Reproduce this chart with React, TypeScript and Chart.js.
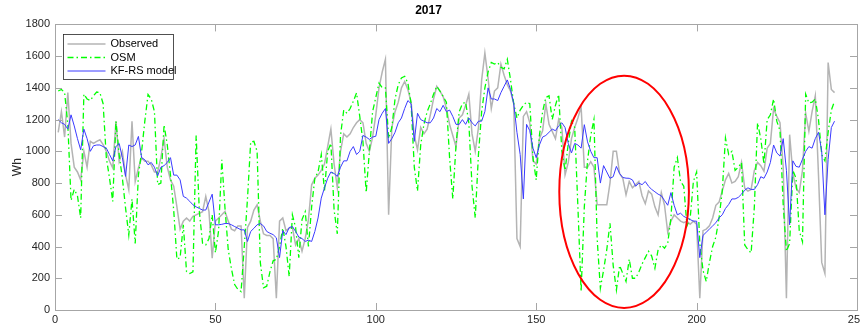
import React, { useEffect, useRef } from "react";
import { Chart, registerables } from "chart.js";

Chart.register(...registerables);

const TITLE = "2017";
const Y_LABEL = "Wh";
const X_MIN = 0;
const X_MAX = 250;
const X_STEP = 50;
const Y_MIN = 0;
const Y_MAX = 1800;
const Y_STEP = 200;
const SERIES_NAMES = ["Observed", "OSM", "KF-RS model"];

const observed = [
  1120, 1250, 1090, 1370, 1050, 900, 870, 820, 1000, 900,
  1063, 1050, 1063, 1073, 1042, 1000, 937, 895, 1189, 937,
  1000, 852, 758, 1189, 810, 895, 958, 937, 937, 915,
  870, 870, 960, 1080, 900, 820, 780, 650, 510, 560,
  580, 560, 590, 600, 610, 620, 716, 620, 326, 560,
  580, 600, 621, 560, 510, 500, 530, 530, 74, 520,
  560, 630, 663, 560, 480, 470, 470, 450, 74, 560,
  580, 500, 516, 520, 410, 450, 370, 450, 570, 789,
  831, 850, 880, 920, 1030, 1140, 920, 770, 1000, 1110,
  1090, 1110, 1150, 1180, 1200, 1180, 1050, 1000, 1090, 1230,
  1400, 1500, 1580, 600, 1150, 1250, 1310, 1400, 1440, 1390,
  1310, 1100, 1010, 1150, 1110, 1140, 1230, 1330, 1410, 1380,
  1345, 1270, 1170, 1100, 1030, 1210, 1230, 1290, 1360, 1110,
  1000, 1150, 1450, 1620, 1460, 1270, 1380, 1400, 1550, 1480,
  1420, 1380, 1300, 450, 400, 1220, 1250, 1180, 940, 920,
  1080, 1130, 1300, 1170, 1126, 1080, 1200, 1150, 852, 930,
  1080, 1150, 1210, 1280, 900, 900, 935, 900, 663, 663,
  663, 663, 800, 1000, 1000, 860, 830, 726, 810, 770,
  790, 810, 720, 670, 750, 730, 650, 600, 740, 660,
  490, 560, 600, 580, 560, 550, 560, 540, 560, 540,
  74, 500, 510, 530, 580, 660, 680, 750, 820, 860,
  800, 810, 840, 930, 768, 750, 760, 880, 930, 910,
  875, 1020, 1050, 1270, 1220, 1180, 900, 74, 1105, 860,
  770, 740, 880, 1240, 1126, 1250, 1350, 850, 300, 230,
  1560, 1390, 1370,
];

const osm = [
  1380, 1390, 1370, 1170, 690, 760, 720, 580, 1360, 1330,
  1320, 1350, 1374, 1370, 1300, 960, 830, 684, 1190, 980,
  831, 642, 473, 700, 420, 850, 1000, 1190, 1358, 1330,
  1250, 790, 800, 1168, 1040, 850, 630, 320, 330, 537,
  242, 230, 240, 1100, 620, 420, 410, 450, 600, 360,
  500, 947, 640, 380, 260, 160, 130, 116, 400, 700,
  1060, 1063, 1000, 300, 140, 150, 240, 310, 320, 400,
  516, 400, 211, 600, 520, 330, 570, 620, 400, 650,
  831, 870, 980, 750, 1000, 1050, 630, 480, 1100, 1260,
  1240, 1270, 1316, 1368, 1220, 1060, 740, 1000, 1250, 1340,
  1430, 1400, 1400, 1080, 1150, 1330, 1420, 1463, 1473, 1430,
  1300, 900, 750, 1040, 1170, 1250, 1300, 1360, 1410, 1380,
  1345, 1310, 960, 700, 1040, 1250, 1300, 1310, 1180, 780,
  580, 980, 1250, 1400, 1500, 1560, 1550, 1560, 1530, 1520,
  1580, 1450, 1300, 1210, 1260, 1290, 1310, 1300, 960, 820,
  1100, 1250, 1340, 1350, 1200, 1290, 1358, 1000, 880, 1050,
  1190, 1150, 650, 116, 650, 940, 1100, 1200, 450, 137,
  250, 380, 547, 280, 126, 280, 230, 180, 320, 200,
  200, 240, 290, 330, 370, 340, 263, 380, 410, 390,
  420, 580, 900, 960, 810, 780, 530, 580, 810, 870,
  420, 250, 180, 300, 400, 460, 580, 750, 1084, 980,
  1000, 880, 900, 930, 410, 380, 360, 650, 1180, 1080,
  920, 1200, 1230, 1330, 1190, 1130, 660, 370, 420, 880,
  830, 500, 430, 1360, 1305, 1310, 1330, 1200, 980, 940,
  1120, 1260, 1316,
];

const kfrs = [
  1200, 1180, 1170, 1140, 1230, 1160, 1080, 1010, 1140, 1080,
  1000, 1035, 1040, 1040, 1030, 1020, 980, 940, 1030, 1050,
  960, 842, 1040, 1030, 1040, 1094, 960, 947, 915, 930,
  900, 845, 900, 910, 930, 960, 850, 850, 820, 716,
  705, 685, 663, 650, 640, 630, 630, 680, 730, 537,
  537, 540, 545, 545, 537, 526, 516, 505, 505, 432,
  495, 515, 537, 545, 530, 495, 484, 475, 455, 330,
  500, 475, 520, 526, 495, 460, 450, 432, 440, 432,
  495, 580, 705, 770, 830, 870, 860, 842, 900, 940,
  940, 1000, 1030, 980, 1000, 1100, 1090, 1075, 1090, 1095,
  1200, 1240, 1270, 1050, 1080, 1120, 1180, 1210, 1270, 1320,
  1300, 1063, 1240, 1200, 1190, 1180, 1180, 1210, 1270, 1250,
  1290, 1250, 1260, 1220, 1170, 1170, 1200, 1170, 1210, 1180,
  1160, 1190, 1190, 1250, 1400, 1330, 1330, 1320, 1370, 1410,
  1450, 1390, 1300, 1120, 980, 700, 1170, 1130, 1020, 960,
  1040, 1090, 1100, 1120, 1140, 1130, 1160, 1180, 1150, 1050,
  990, 1050, 1040, 1020, 1168, 1060, 1000, 960, 960, 800,
  910, 870, 830, 840, 905, 860, 835, 831, 830, 820,
  780, 800, 790, 810, 780, 760, 745, 730, 720, 690,
  660, 740, 660, 600, 610, 590, 580, 570, 560, 560,
  330, 470, 490, 510, 530, 550, 580, 600, 640, 665,
  700, 700, 710, 730, 755, 770, 760, 760, 790, 840,
  830, 870, 930, 1040, 990, 970, 1080, 880, 537, 940,
  905, 900, 950, 1000, 1030, 1020, 1080, 1120, 1000, 600,
  950, 1150, 1190,
];

const days = observed.map((_, i) => i + 1);

// Highlight ellipse, in data units
const ELLIPSE_X = 177.4;
const ELLIPSE_Y = 745;
const ELLIPSE_RX = 20.2;
const ELLIPSE_RY = 732;

const COLORS = {
  observed: "#b4b4b4",
  osm: "#00ff00",
  kfrs: "#3a3aff",
  axis: "#a6a6a6",
  text: "#262626",
  ellipse: "#ff0000",
};
const OSM_DASH = [6, 3, 1.5, 3];
const FONT = "'Liberation Sans', Arial, Helvetica, sans-serif";

const framePlugin = {
  id: "matlabFrame",
  afterDatasetsDraw(chart: any) {
    const { ctx } = chart;
    const xs = chart.scales.x;
    const ys = chart.scales.y;
    const cx = xs.getPixelForValue(ELLIPSE_X);
    const cy = ys.getPixelForValue(ELLIPSE_Y);
    const rx = xs.getPixelForValue(ELLIPSE_X + ELLIPSE_RX) - cx;
    const ry = cy - ys.getPixelForValue(ELLIPSE_Y + ELLIPSE_RY);
    ctx.save();
    ctx.strokeStyle = COLORS.ellipse;
    ctx.lineWidth = 2;
    ctx.beginPath();
    ctx.ellipse(cx, cy, rx, ry, 0, 0, Math.PI * 2);
    ctx.stroke();
    ctx.restore();
  },
  afterDraw(chart: any) {
    const { ctx, chartArea } = chart;
    const { left, right, top, bottom } = chartArea;
    const xs = chart.scales.x;
    const ys = chart.scales.y;
    ctx.save();
    ctx.strokeStyle = COLORS.axis;
    ctx.lineWidth = 1;
    const tl = 7;
    ctx.beginPath();
    xs.ticks.forEach((t: any) => {
      const px = Math.round(xs.getPixelForValue(t.value)) + 0.5;
      ctx.moveTo(px, bottom);
      ctx.lineTo(px, bottom - tl);
      ctx.moveTo(px, top);
      ctx.lineTo(px, top + tl);
    });
    ys.ticks.forEach((t: any) => {
      const py = Math.round(ys.getPixelForValue(t.value)) + 0.5;
      ctx.moveTo(left, py);
      ctx.lineTo(left + tl, py);
      ctx.moveTo(right, py);
      ctx.lineTo(right - tl, py);
    });
    ctx.stroke();
    ctx.strokeRect(Math.round(left) + 0.5, Math.round(top) + 0.5, Math.round(right - left), Math.round(bottom - top));

    // legend
    const lx = Math.round(left) + 8.5;
    const ly = Math.round(top) + 10.5;
    const lw = 110;
    const lh = 45;
    ctx.fillStyle = "#ffffff";
    ctx.fillRect(lx, ly, lw, lh);
    ctx.strokeStyle = "#262626";
    ctx.lineWidth = 0.8;
    ctx.strokeRect(lx, ly, lw, lh);
    const rows = [
      { name: SERIES_NAMES[0], color: COLORS.observed, dash: [] as number[], w: 1.5 },
      { name: SERIES_NAMES[1], color: COLORS.osm, dash: OSM_DASH, w: 1.3 },
      { name: SERIES_NAMES[2], color: COLORS.kfrs, dash: [] as number[], w: 1 },
    ];
    ctx.font = `11px ${FONT}`;
    ctx.textBaseline = "middle";
    ctx.textAlign = "left";
    rows.forEach((r, i) => {
      const y = ly + 9.5 + i * 13.5;
      ctx.strokeStyle = r.color;
      ctx.lineWidth = r.w;
      ctx.setLineDash(r.dash);
      ctx.beginPath();
      ctx.moveTo(lx + 4, y);
      ctx.lineTo(lx + 42, y);
      ctx.stroke();
      ctx.setLineDash([]);
      ctx.fillStyle = "#000000";
      ctx.fillText(r.name, lx + 47, y);
    });
    ctx.restore();
  },
};

export default function App() {
  const ref = useRef<HTMLCanvasElement | null>(null);
  useEffect(() => {
    document.body.style.margin = "0";
    document.body.style.overflow = "hidden";
    if (!ref.current) return;
    const chart = new Chart(ref.current, {
      type: "line",
      data: {
        datasets: [
          {
            label: SERIES_NAMES[0],
            data: days.map((d, i) => ({ x: d, y: observed[i] })),
            borderColor: COLORS.observed,
            borderWidth: 1.5,
            pointRadius: 0,
            tension: 0,
            order: 3,
          },
          {
            label: SERIES_NAMES[1],
            data: days.map((d, i) => ({ x: d, y: osm[i] })),
            borderColor: COLORS.osm,
            borderWidth: 1.3,
            borderDash: OSM_DASH,
            pointRadius: 0,
            tension: 0,
            order: 2,
          },
          {
            label: SERIES_NAMES[2],
            data: days.map((d, i) => ({ x: d, y: kfrs[i] })),
            borderColor: COLORS.kfrs,
            borderWidth: 1,
            pointRadius: 0,
            tension: 0,
            order: 1,
          },
        ],
      },
      options: {
        responsive: false,
        animation: false,
        parsing: false as any,
        layout: { padding: { left: 0, right: 23, top: 0, bottom: 0 } },
        plugins: {
          legend: { display: false },
          tooltip: { enabled: false },
          title: {
            display: true,
            text: TITLE,
            color: "#000000",
            font: { family: FONT, size: 12, weight: "bold" },
            padding: { top: 3, bottom: 7 },
          },
        },
        scales: {
          x: {
            type: "linear",
            min: X_MIN,
            max: X_MAX,
            grid: { display: false, drawTicks: false },
            border: { display: false },
            ticks: {
              stepSize: X_STEP,
              color: COLORS.text,
              font: { family: FONT, size: 11 },
              padding: 3,
              maxRotation: 0,
              callback: (v: any) => String(v),
            },
            afterFit: (s: any) => {
              s.height = 21;
            },
          },
          y: {
            type: "linear",
            min: Y_MIN,
            max: Y_MAX,
            grid: { display: false, drawTicks: false },
            border: { display: false },
            ticks: {
              stepSize: Y_STEP,
              color: COLORS.text,
              font: { family: FONT, size: 11 },
              padding: 5,
              callback: (v: any) => String(v),
            },
            title: {
              display: true,
              text: Y_LABEL,
              color: COLORS.text,
              font: { family: FONT, size: 12 },
              padding: { top: 10, bottom: 0 },
            },
            afterFit: (s: any) => {
              s.width = 55;
            },
          },
        },
      },
      plugins: [framePlugin],
    });
    return () => chart.destroy();
  }, []);
  return (
    <div style={{ position: "relative", width: 860, height: 331, overflow: "hidden" }}>
      <canvas ref={ref} width={880} height={331} style={{ display: "block", width: 880, height: 331 }} />
    </div>
  );
}
